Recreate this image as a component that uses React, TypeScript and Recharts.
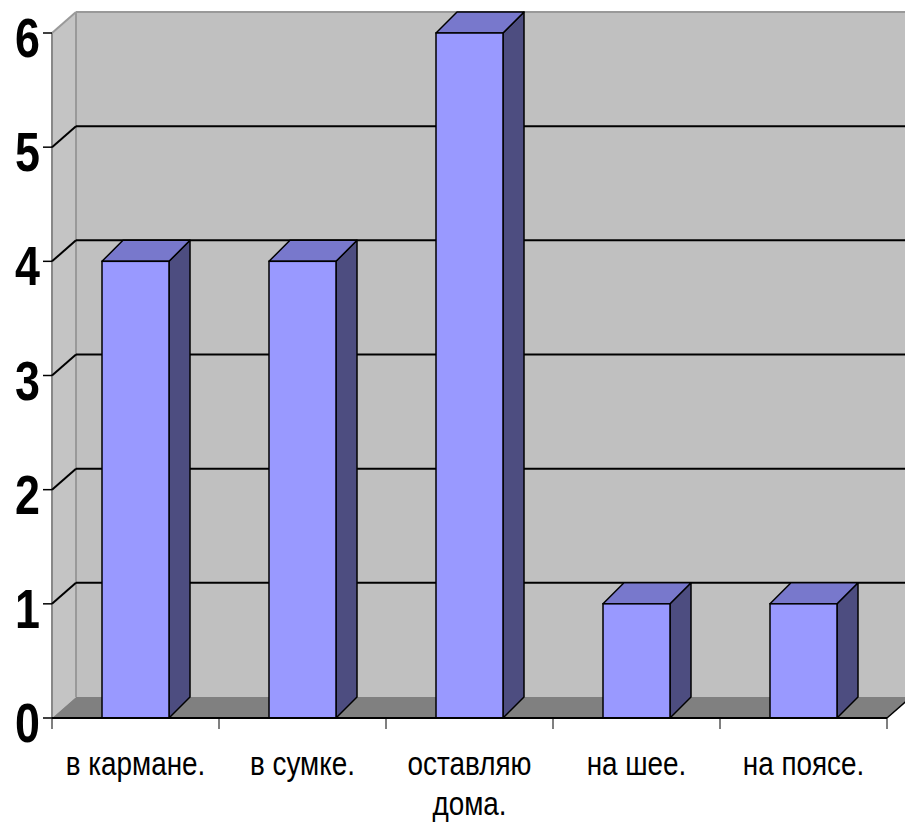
import React from 'react';
import { BarChart, Bar, XAxis, YAxis, CartesianGrid } from 'recharts';

const categories = ['в кармане.', 'в сумке.', 'оставляю дома.', 'на шее.', 'на поясе.'];
const counts = [4, 4, 6, 1, 1];
const yTicks = [0, 1, 2, 3, 4, 5, 6];

const data = categories.map((name, i) => ({ name, value: counts[i] }));

// depth of the 3d look
const WALL_DX = 24;
const WALL_DY = 21;
const BAR_D = 21;

const sans = "'Liberation Sans', Arial, sans-serif";

// long labels go on two lines, like the original
const wrapLabel = (label: string) => {
  const cut = label.lastIndexOf(' ');
  if (label.length > 10 && cut > 0) return [label.slice(0, cut), label.slice(cut + 1)];
  return [label];
};

const Walls = (props: any) => {
  const { x, y, width, height, index } = props;
  if (index !== 0) return <g key={props.key} />;
  const left = x;
  const top = y;
  const right = x + width;
  const bottom = y + height;
  return (
    <g key={props.key}>
      <rect x={left + WALL_DX} y={top - WALL_DY} width={width} height={height} fill="#c0c0c0" />
      <polygon
        points={`${left},${top} ${left + WALL_DX},${top - WALL_DY} ${left + WALL_DX},${bottom - WALL_DY} ${left},${bottom}`}
        fill="#c4c4c4"
      />
      <polygon
        points={`${left},${bottom} ${right},${bottom} ${right + WALL_DX},${bottom - WALL_DY} ${left + WALL_DX},${bottom - WALL_DY}`}
        fill="#808080"
      />
      <line x1={left} y1={top} x2={left} y2={bottom} stroke="#888" strokeWidth={2} />
      <line x1={left + WALL_DX} y1={top - WALL_DY} x2={left + WALL_DX} y2={bottom - WALL_DY} stroke="#999" strokeWidth={2} />
      <line x1={left} y1={top} x2={left + WALL_DX} y2={top - WALL_DY} stroke="#999" strokeWidth={2} />
      <line x1={left + WALL_DX} y1={top - WALL_DY} x2={right + WALL_DX} y2={top - WALL_DY} stroke="#999" strokeWidth={2} />
      <line x1={right} y1={bottom} x2={right + WALL_DX} y2={bottom - WALL_DY} stroke="#000" strokeWidth={1.5} />
    </g>
  );
};

const GridLine = (props: any) => {
  const { x1, y1, x2, y, height } = props;
  if (Math.abs(y1 - y) < 1 || Math.abs(y1 - (y + height)) < 1) return <g key={props.key} />;
  return (
    <g key={props.key}>
      <line x1={x1} y1={y1} x2={x1 + WALL_DX} y2={y1 - WALL_DY} stroke="#000" strokeWidth={2} />
      <line x1={x1 + WALL_DX} y1={y1 - WALL_DY} x2={x2 + WALL_DX} y2={y1 - WALL_DY} stroke="#000" strokeWidth={2} />
    </g>
  );
};

const Bar3D = (props: any) => {
  const { x, y, width, height } = props;
  const d = BAR_D;
  return (
    <g>
      <polygon
        points={`${x + width},${y} ${x + width + d},${y - d} ${x + width + d},${y + height - d} ${x + width},${y + height}`}
        fill="#4d4d80"
        stroke="#000"
        strokeWidth={1.5}
        strokeLinejoin="round"
      />
      <polygon
        points={`${x},${y} ${x + d},${y - d} ${x + width + d},${y - d} ${x + width},${y}`}
        fill="#7878cc"
        stroke="#000"
        strokeWidth={1.5}
        strokeLinejoin="round"
      />
      <rect x={x} y={y} width={width} height={height} fill="#9999ff" stroke="#000" strokeWidth={1.5} />
    </g>
  );
};

const YTick = (props: any) => {
  const { x, y, payload } = props;
  return (
    <text
      transform={`translate(${x},${y + 24}) scale(0.8,1)`}
      textAnchor="end"
      fontFamily={sans}
      fontWeight="bold"
      fontSize={56}
      fill="#000"
    >
      {payload.value}
    </text>
  );
};

const XTick = (props: any) => {
  const { x, y, payload, index } = props;
  const half = payload.offset || 83.5;
  const lines = wrapLabel(String(payload.value));
  return (
    <g>
      <line x1={x - half} y1={y} x2={x - half} y2={y + 11} stroke="#000" strokeWidth={1} />
      {index === categories.length - 1 && (
        <line x1={x + half} y1={y} x2={x + half} y2={y + 11} stroke="#000" strokeWidth={1} />
      )}
      <text transform={`translate(${x},${y + 57}) scale(0.82,1)`} textAnchor="middle" fontFamily={sans} fontSize={34} fill="#000">
        {lines.map((line, i) => (
          <tspan key={i} x={0} dy={i === 0 ? 0 : 40}>
            {line}
          </tspan>
        ))}
      </text>
    </g>
  );
};

export default function App() {
  return (
    <div style={{ position: 'absolute', left: 0, top: 0, background: '#fff' }}>
      <BarChart width={905} height={823} data={data} margin={{ top: 33, right: 18, bottom: 0, left: 0 }} barSize={67}>
        <CartesianGrid vertical={false} horizontal={Walls} />
        <CartesianGrid vertical={false} horizontal={GridLine} />
        <XAxis
          dataKey="name"
          height={105}
          interval={0}
          tickLine={false}
          tickSize={0}
          tickMargin={0}
          axisLine={{ stroke: '#000', strokeWidth: 2 }}
          tick={<XTick />}
        />
        <YAxis
          width={52}
          domain={[0, 6]}
          ticks={yTicks}
          interval={0}
          axisLine={false}
          tickLine={{ stroke: '#000', strokeWidth: 1.5 }}
          tickSize={9}
          tickMargin={3}
          tick={<YTick />}
        />
        <Bar dataKey="value" shape={<Bar3D />} isAnimationActive={false} />
      </BarChart>
    </div>
  );
}
